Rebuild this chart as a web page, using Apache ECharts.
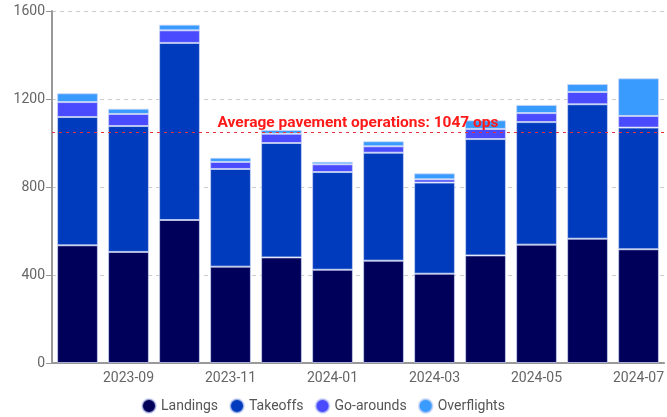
<!DOCTYPE html>
<html>
<head>
<meta charset="utf-8">
<script src="https://cdn.jsdelivr.net/npm/echarts@6/dist/echarts.min.js"></script>
<style>html,body{margin:0;padding:0;background:#fff}#c{width:667px;height:417px}</style>
</head>
<body>
<div id="c"></div>
<script>
const months = ['2023-08','2023-09','2023-10','2023-11','2023-12','2024-01','2024-02','2024-03','2024-04','2024-05','2024-06','2024-07'];
const landings   = [535, 505, 650, 438, 480, 424, 465, 406, 489, 538, 565, 517];
const takeoffs   = [583, 572, 805, 444, 520, 444, 491, 414, 529, 557, 611, 553];
const goArounds  = [68, 55, 57, 32, 42, 35, 29, 15, 46, 41, 56, 53];
const overflights= [40, 24, 26, 19, 17, 12, 23, 27, 39, 37, 36, 171];
const avgPavement = 1047;
const yTicks = [0, 400, 800, 1200, 1600];

const chart = echarts.init(document.getElementById('c'), null, {renderer:'canvas'});
const border = {borderColor:'rgba(205,215,245,0.7)', borderWidth:1};
const mk = (name, data, color, extra) => Object.assign({
  name, type:'bar', stack:'ops', data, barCategoryGap:'20%',
  itemStyle:Object.assign({color}, border)
}, extra || {});
chart.setOption({
  animation:false,
  textStyle:{fontFamily:'Roboto'},
  grid:{left:52, right:1, top:11, bottom:54},
  legend:{top:393, left:136, icon:'circle', itemWidth:14, itemHeight:14, itemGap:11,
    textStyle:{fontSize:14, color:'#555', fontFamily:'Roboto'},
    data:['Landings','Takeoffs','Go-arounds','Overflights']},
  xAxis:{type:'category', data:months,
    axisLine:{lineStyle:{color:'#999', width:2}},
    axisTick:{alignWithLabel:true, interval:(i)=>i%2===1, length:5, lineStyle:{color:'#999'}},
    axisLabel:{interval:(i)=>i%2===1, color:'#666', fontSize:14, margin:8}},
  yAxis:{type:'value', min:yTicks[0], max:yTicks[yTicks.length-1], interval:400,
    axisLine:{show:true, lineStyle:{color:'#999', width:2}},
    axisTick:{show:true, length:6, lineStyle:{color:'#999'}},
    axisLabel:{color:'#666', fontSize:14, margin:7, formatter:(v)=>String(v)},
    splitLine:{lineStyle:{color:'#ccc', type:[4,4]}}},
  series:[
    mk('Landings', landings, '#00005a'),
    mk('Takeoffs', takeoffs, '#003bbd'),
    mk('Go-arounds', goArounds, '#4a4aff'),
    mk('Overflights', overflights, '#3a9bff', {
      markLine:{symbol:'none', silent:true, z:10,
        lineStyle:{color:'#e8323a', type:[3,4], width:1},
        label:{position:'insideMiddleTop', formatter:'Average pavement operations: ' + avgPavement + ' ops',
          color:'#ff1a1a', fontWeight:'bold', fontSize:15.5, distance:2},
        data:[{yAxis:avgPavement}]}
    })
  ]
});
</script>
</body>
</html>
